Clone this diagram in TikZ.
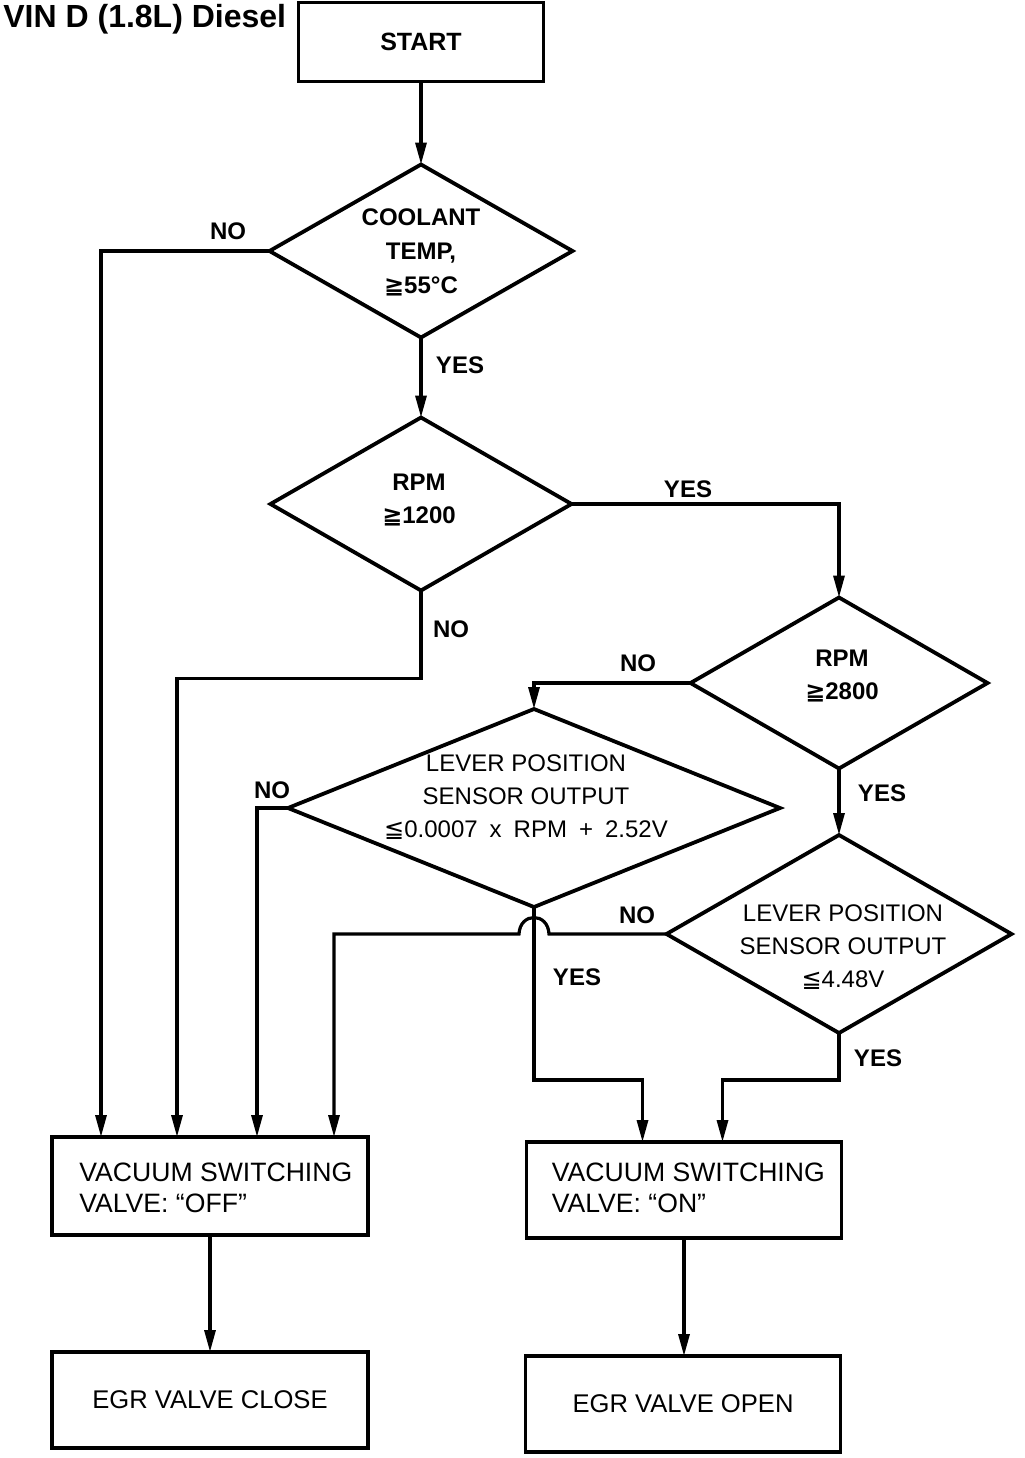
\documentclass[tikz,border=0pt]{standalone}
\usepackage{fontspec}
\setmainfont{Liberation Sans}
\newfontfamily\symf{DejaVu Sans}
\usetikzlibrary{arrows.meta,calc,shapes.geometric}
\newcommand{\mygeq}{{\symf ≧}}
\newcommand{\myleq}{{\symf ≦}}
\newcommand{\wsp}{\hspace{0.5em}}
\begin{document}
\begin{tikzpicture}[x=0.5pt,y=-0.5pt,
  shp/.style={draw,line width=1.9pt,outer sep=0pt,inner sep=0pt},
  box/.style={shp,rectangle},
  dia/.style={shp,diamond},
  con/.style={line width=1.6pt},
  arr/.style={con,-{Triangle[length=11pt,width=5.5pt]}},
  lbl/.style={font=\bfseries\fontsize{12}{14}\selectfont,inner sep=0pt},
  dtxt/.style={align=center,inner sep=0pt,font=\fontsize{12}{16.5}\selectfont},
  btxt/.style={align=center,inner sep=0pt,font=\bfseries\fontsize{12}{16.5}\selectfont},
]
\useasboundingbox (0,0) rectangle (1024,1458);

\node[anchor=west,inner sep=0pt,font=\bfseries\fontsize{16}{18}\selectfont] (title) at (3,19) {VIN D (1.8L) Diesel};

% boxes
\node[box,minimum width=122.5pt,minimum height=39.5pt,font=\bfseries\fontsize{12.5}{14}\selectfont] (start) at (421,42) {START};
\node[box,minimum width=158pt,minimum height=49pt] (vsvoff) at (210,1186) {};
\node[box,minimum width=157.5pt,minimum height=48pt] (vsvon) at (684,1190) {};
\node[box,minimum width=158pt,minimum height=48pt,font=\fontsize{12.8}{14}\selectfont] (egrclose) at (210,1400) {EGR VALVE CLOSE};
\node[box,minimum width=157.5pt,minimum height=48pt,font=\fontsize{12.8}{14}\selectfont] (egropen) at (683,1404) {EGR VALVE OPEN};

\node[anchor=west,align=left,inner sep=0pt,font=\fontsize{13.3}{15.5}\selectfont] (toff) at ($(vsvoff.west)+(27,2)$) {VACUUM SWITCHING\\VALVE: “OFF”};
\node[anchor=west,align=left,inner sep=0pt,font=\fontsize{13.3}{15.5}\selectfont] (ton) at ($(vsvon.west)+(25,-2)$) {VACUUM SWITCHING\\VALVE: “ON”};

% diamonds
\node[dia,minimum width=151.5pt,minimum height=86.5pt] (d1) at (421,251) {};
\node[dia,minimum width=150.5pt,minimum height=86.5pt] (d2) at (421,504) {};
\node[dia,minimum width=148.5pt,minimum height=85.5pt] (d3) at (839,683) {};
\node[dia,minimum width=246pt,minimum height=99pt] (d4) at (534,808) {};
\node[dia,minimum width=172.5pt,minimum height=99pt] (d5) at (839,934) {};

\node[btxt,font=\bfseries\fontsize{12}{17}\selectfont] (t1) at (421,252) {COOLANT\\TEMP,\\\mygeq55°C};
\node[btxt] (t2) at (419,500) {RPM\\\mygeq1200};
\node[btxt] (t3) at (842,676) {RPM\\\mygeq2800};
\node[dtxt] (t4) at (526,797) {LEVER POSITION\\SENSOR OUTPUT\\\myleq0.0007\wsp x\wsp RPM\wsp +\wsp 2.52V};
\node[dtxt] (t5) at (843,947) {LEVER POSITION\\SENSOR OUTPUT\\\myleq4.48V};

% entry points
\coordinate (off1) at ($(vsvoff.north west)+(49,0)$);
\coordinate (off2) at ($(vsvoff.north west)+(125,0)$);
\coordinate (off3) at ($(vsvoff.north west)+(205,0)$);
\coordinate (off4) at ($(vsvoff.north west)+(282,0)$);
\coordinate (on1) at ($(vsvon.north west)+(116,0)$);
\coordinate (on2) at ($(vsvon.north west)+(196,0)$);
\coordinate (row) at (0,1080);
\coordinate (k1) at ($(d2.south)+(0,88)$);
\coordinate (hc) at (d4.south |- d5.west);

% connectors
\draw[arr] (start.south) -- (d1.north);
\draw[arr] (d1.west) -| (off1);
\draw[arr] (d1.south) -- (d2.north);
\draw[arr] (d2.east) -| (d3.north);
\draw[arr] (d2.south) -- (k1) -| (off2);
\draw[arr] (d3.west) -| (d4.north);
\draw[arr] (d4.west) -| (off3);
\draw[arr] (d4.south) -- (d4.south |- row) -| (on1);
\draw[arr] (d3.south) -- (d5.north);
\draw[arr] (d5.south) -- (d5.south |- row) -| (on2);
\draw[arr] (d5.west) -- ($(hc)+(15,0)$) .. controls +(-1,-22) and +(1,-22) .. ($(hc)+(-15,0)$) -| (off4);
\draw[arr] (vsvoff.south) -- (vsvoff.south |- egrclose.north);
\draw[arr] (vsvon.south) -- (vsvon.south |- egropen.north);

% labels
\node[lbl] (n1) at (228,231) {NO};
\node[lbl] (y1) at (460,365) {YES};
\node[lbl] (y2) at (688,489) {YES};
\node[lbl] (n2) at (451,629) {NO};
\node[lbl] (n3) at (638,663) {NO};
\node[lbl] (n4) at (272,790) {NO};
\node[lbl] (y3) at (577,977) {YES};
\node[lbl] (y4) at (882,793) {YES};
\node[lbl] (n5) at (637,915) {NO};
\node[lbl] (y5) at (878,1058) {YES};
\end{tikzpicture}
\end{document}
